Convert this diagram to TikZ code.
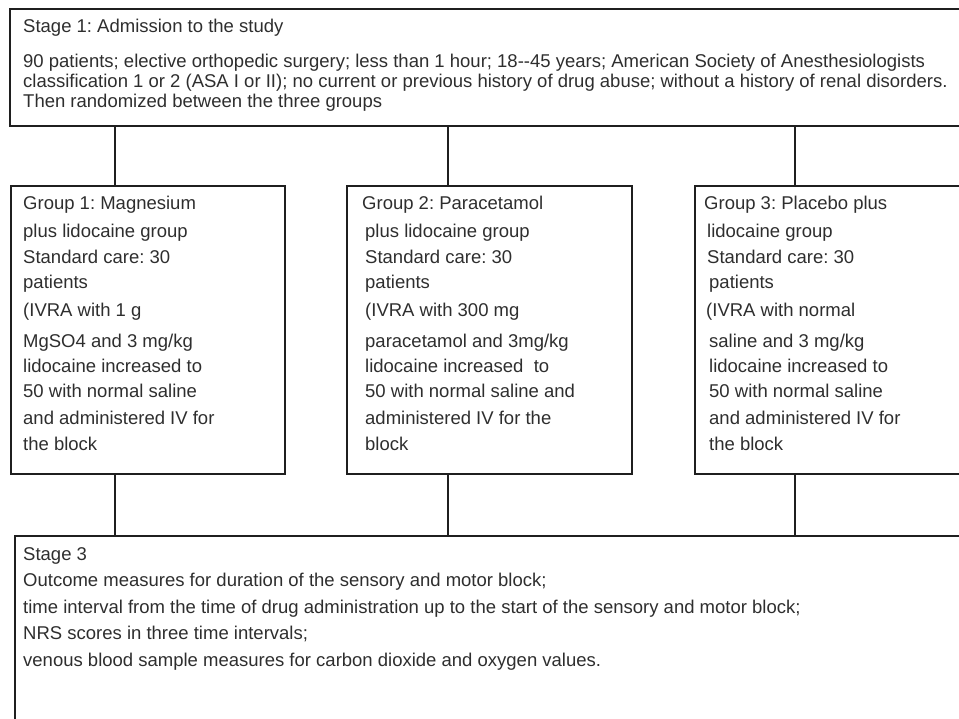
\documentclass[tikz,border=0pt]{standalone}
\usepackage{fontspec}
\setmainfont{Liberation Sans}
\usetikzlibrary{positioning}
\frenchspacing
\tikzset{
	box/.style={draw=black!88, line width=1.6pt, rectangle, inner sep=0pt, outer sep=0pt, anchor=north west},
	stagebox/.style={box, minimum width=960pt},
	groupbox/.style={box, minimum height=288pt},
	% text inside the boxes
	boxtext/.style={anchor=north west, align=left, inner sep=0pt, text=black!82, font=\fontsize{18.5}{26}\selectfont},
}

\begin{document}
\begin{tikzpicture}[x=1pt, y=-1pt]
	\useasboundingbox (0,0) rectangle (959,719);
	\clip (0,0) rectangle (959,719);
	
	\node (s1) [stagebox, minimum height=117pt] at (10,9) {};
	
	\node (g1) [groupbox, minimum width=274pt] at (11,186) {};
	\node (g2) [groupbox, minimum width=285pt, right=62pt of g1.north east, anchor=north west] {};
	\node (g3) [groupbox, minimum width=280pt, right=63pt of g2.north east, anchor=north west] {};
	
	\node (s3) [stagebox, minimum height=200pt] at (15,536) {};
	
	\node (t1) [boxtext, font=\fontsize{18.5}{20}\selectfont] at (23,19) {Stage 1: Admission to the study\\[15pt]
		90 patients; elective orthopedic surgery; less than 1 hour; 18-\kern0pt-45 years; American Society of Anesthesiologists\\
		classification 1 or 2 (ASA I or II); no current or previous history of drug abuse; without a history of renal disorders.\\
		Then randomized between the three groups};
	
	\node (t2) [boxtext] at (23,195.5) {Group 1: Magnesium\\[2.5pt]
		plus lidocaine group\\
		Standard care: 30\\[-1pt]
		patients\\[2pt]
		(IVRA with 1 g\\[4.5pt]
		MgSO4 and 3 mg/kg\\[-1pt]
		lidocaine increased to\\[-1pt]
		50 with normal saline\\[1pt]
		and administered IV for\\
		the block};
	
	\node (t3) [boxtext] at (362,195.5) {Group 2: Paracetamol\\[2.5pt]
		\hspace*{3pt}plus lidocaine group\\
		\hspace*{3pt}Standard care: 30\\[-1pt]
		\hspace*{3pt}patients\\[2pt]
		\hspace*{3pt}(IVRA with 300 mg\\[4.5pt]
		\hspace*{3pt}paracetamol and 3mg/kg\\[-1pt]
		\hspace*{3pt}lidocaine increased \ to\\[-1pt]
		\hspace*{3pt}50 with normal saline and\\[1pt]
		\hspace*{3pt}administered IV for the\\
		\hspace*{3pt}block};
	
	\node (t4) [boxtext] at (704,195.5) {Group 3: Placebo plus\\[2.5pt]
		\hspace*{3pt}lidocaine group\\
		\hspace*{3pt}Standard care: 30\\[-1pt]
		\hspace*{5pt}patients\\[2pt]
		\hspace*{2pt}(IVRA with normal\\[4.5pt]
		\hspace*{5pt}saline and 3 mg/kg\\[-1pt]
		\hspace*{5pt}lidocaine increased to\\[-1pt]
		\hspace*{5pt}50 with normal saline\\[1pt]
		\hspace*{5pt}and administered IV for\\
		\hspace*{5pt}the block};
	
	\node (t5) [boxtext, font=\fontsize{18.5}{26.5}\selectfont] at (23,547) {Stage 3\\
		Outcome measures for duration of the sensory and motor block;\\
		time interval from the time of drug administration up to the start of the sensory and motor block;\\
		NRS scores in three time intervals;\\
		venous blood sample measures for carbon dioxide and oxygen values.};
	
	\coordinate (c1) at (115,0);
	\coordinate (c2) at (448,0);
	\coordinate (c3) at (795,0);
	
	\begin{scope}[draw=black!88, line width=1.6pt]
		\draw (s1.south -| c1) -- (g1.north -| c1);
		\draw (s1.south -| c2) -- (g2.north -| c2);
		\draw (s1.south -| c3) -- (g3.north -| c3);
		
		\draw (g1.south -| c1) -- (s3.north -| c1);
		\draw (g2.south -| c2) -- (s3.north -| c2);
		\draw (g3.south -| c3) -- (s3.north -| c3);
	\end{scope}
	
\end{tikzpicture}
\end{document}
